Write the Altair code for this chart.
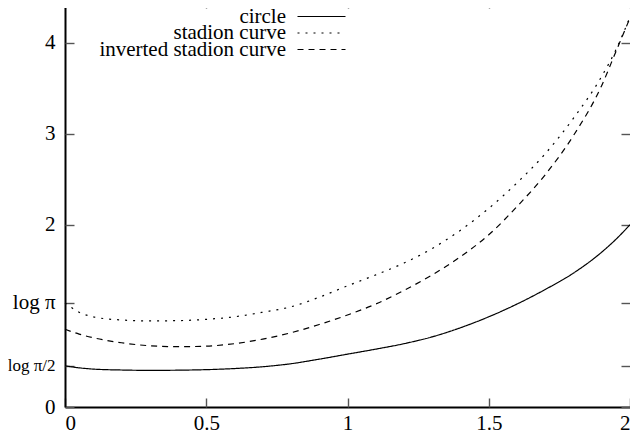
import math
import altair as alt
import pandas as pd

# ---- data ----
x_vals = [0, 0.05, 0.1, 0.2, 0.3, 0.4, 0.5, 0.6, 0.7, 0.8, 0.9, 1.0,
          1.1, 1.2, 1.3, 1.4, 1.5, 1.6, 1.7, 1.8, 1.9, 1.95, 2.0]
circle = [0.452, 0.430, 0.416, 0.406, 0.402, 0.404, 0.410, 0.422, 0.442, 0.475,
          0.525, 0.580, 0.635, 0.695, 0.770, 0.870, 0.990, 1.130, 1.290, 1.470,
          1.700, 1.840, 2.000]
stadion = [1.145, 1.040, 0.990, 0.955, 0.945, 0.948, 0.962, 0.990, 1.040, 1.100,
           1.205, 1.330, 1.450, 1.580, 1.740, 1.940, 2.180, 2.460, 2.780, 3.170,
           3.630, 3.920, 4.280]
inverted = [0.853, 0.800, 0.760, 0.705, 0.672, 0.662, 0.668, 0.695, 0.745, 0.815,
            0.905, 1.010, 1.130, 1.280, 1.450, 1.650, 1.890, 2.200, 2.550, 2.980,
            3.530, 3.900, 4.270]
series_names = ["circle", "stadion curve", "inverted stadion curve"]
series_dashes = [[1, 0], [2, 6], [6, 5]]

x_ticks = [0, 0.5, 1, 1.5, 2]
y_ticks = [0, math.log(math.pi / 2), math.log(math.pi), 2, 3, 4]
y_tick_labels = ["0", "log π/2", "log π", "2", "3", "4"]

rows = []
for name, vals in zip(series_names, [circle, stadion, inverted]):
    for xv, yv in zip(x_vals, vals):
        rows.append({"x": xv, "value": yv, "series": name})
df = pd.DataFrame(rows)

# label expression for the y axis built from the tick arrays
expr = "''"
for v, lab in zip(reversed(y_ticks), reversed(y_tick_labels)):
    expr = f"abs(datum.value - {v:.6f}) < 0.001 ? '{lab}' : " + expr
small_test = f"abs(datum.value - {y_ticks[1]:.6f}) < 0.001"

W, H = 565, 410
FONT = "Liberation Serif"
FS = 21

xscale = alt.Scale(domain=[0, 2], nice=False, zero=False)
yscale = alt.Scale(domain=[0, 4.5], nice=False, zero=False)

base = alt.Chart(df)

x_main_axis = alt.Axis(
    values=x_ticks, format="~g", ticks=False, tickSize=0, grid=False,
    domain=True, domainColor="black", domainWidth=2, labelPadding=5,
    labelFont=FONT, labelFontSize=FS, labelColor="black", title=None)
y_main_axis = alt.Axis(
    values=y_ticks, labelExpr=expr, ticks=False, tickSize=0, grid=False,
    domain=True, domainColor="black", domainWidth=2, labelPadding=10,
    labelFont=FONT, labelColor="black",
    labelFontSize={"condition": {"test": small_test, "value": 17}, "value": FS},
    title=None)

legend_rows_y = [9, 25.5, 42]

series_layers = []
for i, (name, dash) in enumerate(zip(series_names, series_dashes)):
    layer = base.transform_filter(
        alt.datum.series == name
    ).mark_line(color="black", strokeWidth=1.2, interpolate="monotone").encode(
        x=alt.X("x:Q", scale=xscale, axis=x_main_axis if i == 0 else None),
        y=alt.Y("value:Q", scale=yscale, axis=y_main_axis if i == 0 else None),
        strokeDash=alt.StrokeDash("series:N", scale=alt.Scale(
            domain=[name], range=[dash]),
            legend=alt.Legend(
                title=None, orient="none", legendX=246, legendY=legend_rows_y[i],
                symbolType="M-5,0H5", symbolSize=92.16, symbolStrokeWidth=1.2,
                symbolStrokeColor="black", labelAlign="right",
                labelOffset={"expr": "-46"}, rowPadding=0,
                labelFont=FONT, labelFontSize=FS, labelColor="black",
                labelLimit=400)),
    )
    series_layers.append(layer)

tick_style = dict(labels=False, domain=False, grid=False, ticks=True,
                  tickColor="#555", tickWidth=1.4, title=None)

# inward ticks at bottom and left
ticks_in = base.mark_line(strokeOpacity=0).encode(
    x=alt.X("x:Q", scale=xscale, axis=alt.Axis(orient="top", offset=-H, tickSize=9,
                                               values=x_ticks, **tick_style)),
    y=alt.Y("value:Q", scale=yscale, axis=alt.Axis(orient="right", offset=-W, tickSize=9,
                                                   values=y_ticks, **tick_style)),
    detail="series:N",
)
# mirrored inward ticks at top and right
ticks_mirror = base.mark_line(strokeOpacity=0).encode(
    x=alt.X("x:Q", scale=xscale, axis=alt.Axis(orient="bottom", offset=-H, tickSize=11,
                                               values=x_ticks, **tick_style)),
    y=alt.Y("value:Q", scale=yscale, axis=alt.Axis(orient="left", offset=-W, tickSize=9,
                                                   values=y_ticks, **tick_style)),
    detail="series:N",
)

chart = alt.layer(*series_layers, ticks_in, ticks_mirror).resolve_axis(
    x="independent", y="independent"
).resolve_scale(
    strokeDash="independent"
).resolve_legend(
    strokeDash="independent"
).properties(
    width=W, height=H,
    autosize=alt.AutoSizeParams(type="none"),
    padding={"left": 57, "top": -11, "right": 0, "bottom": 27},
).configure_view(
    stroke="black", strokeWidth=1
).configure(background="white")

chart.save("out.html", embed_options={"renderer": "svg", "actions": False})
